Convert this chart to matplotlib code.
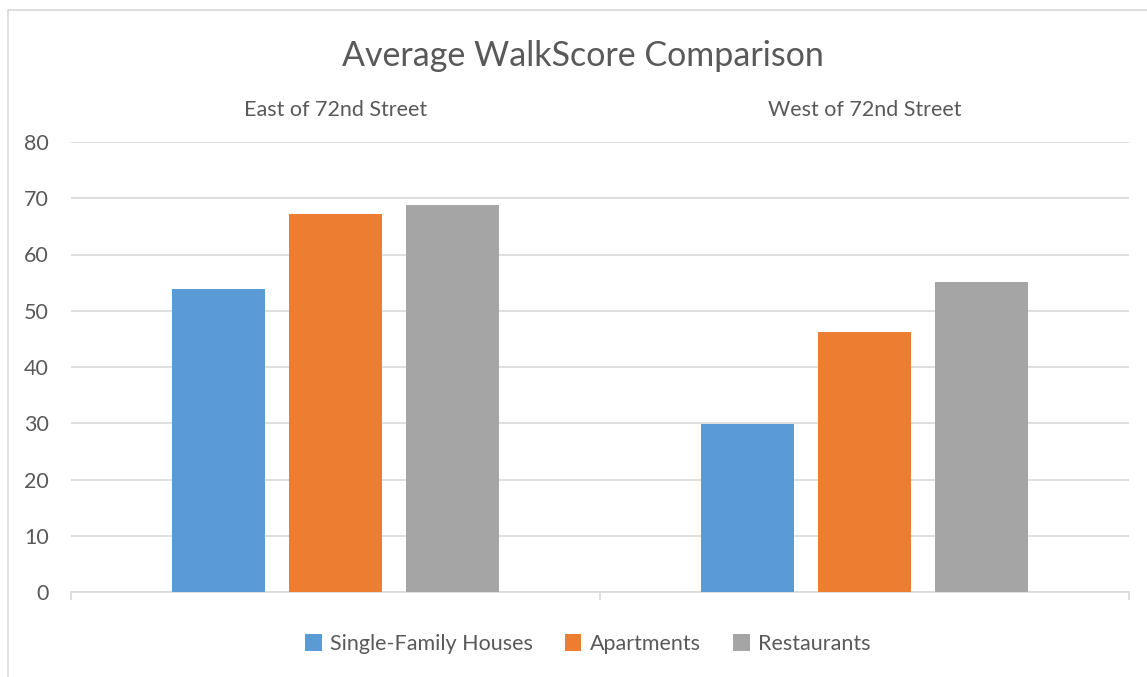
import matplotlib.pyplot as plt
from matplotlib.patches import Rectangle
import numpy as np

# categories and series
categories = ['East of 72nd Street', 'West of 72nd Street']
series_names = ['Single-Family Houses', 'Apartments', 'Restaurants']
single_family = [53.8, 29.9]
apartments = [67.2, 46.3]
restaurants = [68.8, 55.1]
yticks = [0, 10, 20, 30, 40, 50, 60, 70, 80]

colors = ['#5B9BD5', '#ED7D31', '#A5A5A5']
txt = '#595959'
grid = '#D9D9D9'

plt.rcParams['font.family'] = ['Lato', 'DejaVu Sans']

fig = plt.figure(figsize=(11.47, 6.77), dpi=100)
# chart border (only top/left visible in reference)
fig.patches.append(Rectangle((8 / 1147, -0.1), 1.2, (677 - 10) / 677 + 0.1,
                             transform=fig.transFigure, fill=False,
                             edgecolor=grid, lw=1.2))

ax = fig.add_axes([71 / 1147, 85 / 677, (1129 - 71) / 1147, 450 / 677])

x = np.arange(len(categories))
width = 0.176
step = 0.221
for i, vals in enumerate([single_family, apartments, restaurants]):
    ax.bar(x + (i - 1) * step, vals, width, color=colors[i],
           label=series_names[i], zorder=3)

ax.set_xlim(-0.5, len(categories) - 0.5)
ax.set_ylim(0, 80)
ax.set_yticks(yticks)
ax.yaxis.grid(True, color=grid, lw=1.2, zorder=0)
ax.tick_params(axis='y', length=0, labelsize=15.5, labelcolor=txt, pad=16)
ax.set_xticks([])
ax.set_xticks(np.arange(-0.5, len(categories)), minor=True)
ax.tick_params(axis='x', which='minor', length=6, color=grid, width=1.2)
for s in ['top', 'right', 'left']:
    ax.spines[s].set_visible(False)
ax.spines['bottom'].set_color(grid)
ax.spines['bottom'].set_linewidth(1.2)

for xi, c in zip(x, categories):
    ax.text(xi, 1.07, c, transform=ax.get_xaxis_transform(),
            ha='center', va='center', fontsize=15.5, color=txt)

fig.text(583 / 1147, 1 - 56 / 677, 'Average WalkScore Comparison',
         ha='center', va='center', fontsize=24.5, color=txt)

leg = ax.legend(loc='center', bbox_to_anchor=(588 / 1147, 1 - 644 / 677),
                bbox_transform=fig.transFigure, ncol=3, frameon=False,
                fontsize=15.5, handlelength=0.75, handleheight=0.85,
                handletextpad=0.4, columnspacing=1.5)
for t in leg.get_texts():
    t.set_color(txt)

fig.savefig('out.png', dpi=100)
